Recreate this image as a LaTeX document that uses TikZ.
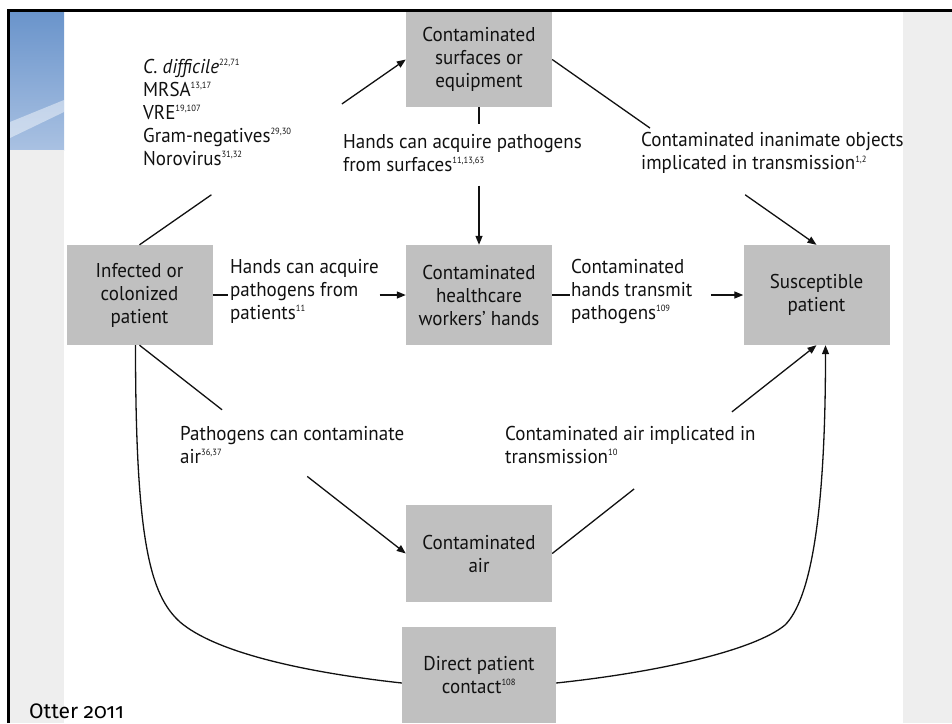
\documentclass[tikz,border=0pt]{standalone}
\usepackage{fontspec}
\setmainfont{PT Sans}[FakeStretch=0.95]
\newfontfamily\otterfont[Numbers=OldStyle]{Fira Sans}
\usetikzlibrary{arrows.meta,calc}
\definecolor{boxgray}{HTML}{C0C0C0}
\definecolor{stripgray}{HTML}{EEEEEE}
\definecolor{inkgray}{HTML}{111111}
\definecolor{slideblue}{HTML}{6A94CB}
\definecolor{paleblue}{HTML}{A9C1E2}
\newcommand{\supref}[1]{\textsuperscript{\fontsize{9}{9}\selectfont #1}}
\begin{document}
\begin{tikzpicture}[x=1pt,y=-1pt,
    stage/.style={fill=boxgray,text=inkgray,align=center,inner sep=0pt,minimum width=146pt,minimum height=100pt,font=\fontsize{20}{23}\selectfont},
    note/.style={anchor=west,align=left,inner sep=0pt,text=inkgray,font=\fontsize{20}{23}\selectfont},
    link/.style={line width=1.3pt,draw=inkgray},
    arr/.style={link,-{Triangle[length=9pt,width=7pt]}}]
        \useasboundingbox (0,0) rectangle (952,723);
        % slide background
        \fill[top color=slideblue,bottom color=paleblue] (10,12) rectangle (64,150);
        \fill[white,opacity=0.45] (10,122) -- (64,100) -- (64,112) -- (10,138) -- cycle;
        \fill[stripgray] (10,150) rectangle (64,723);
        \fill[stripgray] (903,12) rectangle (952,723);
        \draw[line width=3pt] (8,723) -- (8,10) -- (952,10);
        % boxes
        \node[stage,minimum height=95pt] (surf) at (479,59.5) {Contaminated\\surfaces or\\equipment};
        \node[stage] (infect) at (139.5,295) {Infected or\\colonized\\patient};
        \node[stage] (hands) at (479,295) {Contaminated\\healthcare\\workers’ hands};
        \node[stage] (susc) at (816.5,295) {Susceptible\\patient};
        \node[stage,minimum height=97pt] (air) at (479,553.5) {Contaminated\\air};
        \node[stage,minimum width=154pt,minimum height=96pt] (direct) at (479,675) {Direct patient\\contact\supref{108}};
        % labels on the routes
        \node[note] (bugs) at (143,112) {\textit{C. difficile}\supref{22,71}\\MRSA\supref{13,17}\\VRE\supref{19,107}\\Gram-negatives\supref{29,30}\\Norovirus\supref{31,32}};
        \node[note] (viasurf) at (343,153) {Hands can acquire pathogens\\from surfaces\supref{11,13,63}};
        \node[note] (objects) at (641,153) {Contaminated inanimate objects\\implicated in transmission\supref{1,2}};
        \node[note] (viapat) at (230,291) {Hands can acquire\\pathogens from\\patients\supref{11}};
        \node[note] (viahands) at (571,291) {Contaminated\\hands transmit\\pathogens\supref{109}};
        \node[note] (toair) at (180,445) {Pathogens can contaminate\\air\supref{36,37}};
        \node[note] (fromair) at (505,445) {Contaminated air implicated in\\transmission\supref{10}};
        \node[note,font={\otterfont\fontsize{21}{21}\selectfont},text=black] (cite) at (29,711) {Otter 2011};
        % routes, broken by their labels
        \draw[link] (infect.north) -- ($(infect.north)!0.27!(surf.west)$);
        \draw[arr] ($(infect.north)!0.76!(surf.west)$) -- (surf.west);
        \draw[link] (surf.south) -- ($(surf.south)!0.12!(hands.north)$);
        \draw[arr] ($(surf.south)!0.57!(hands.north)$) -- (hands.north);
        \draw[link] (surf.east) -- ($(surf.east)!0.37!(susc.north)$);
        \draw[arr] ($(surf.east)!0.73!(susc.north)$) -- (susc.north);
        \draw[link] (infect.east) -- ($(infect.east)!0.08!(hands.west)$);
        \draw[arr] ($(infect.east)!0.865!(hands.west)$) -- (hands.west);
        \draw[link] (hands.east) -- ($(hands.east)!0.094!(susc.west)$);
        \draw[arr] ($(hands.east)!0.83!(susc.west)$) -- (susc.west);
        \draw[link] (infect.south) -- ($(infect.south)!0.31!(air.west)$);
        \draw[arr] ($(infect.south)!0.63!(air.west)$) -- (air.west);
        \draw[link] (air.east) -- ($(air.east)!0.31!(susc.south)$);
        \draw[arr] ($(air.east)!0.68!(susc.south)$) -- (susc.south);
        % direct contact
        \draw[link] ([xshift=-4]infect.south) .. controls +(0,195) and +(-30,-27) .. (180,622)
            .. controls +(35,30) and +(-100,-11) .. ([yshift=-8]direct.west);
        \draw[arr] ([yshift=-8]direct.east) .. controls +(104,-11) and +(-30,25) .. (785,625)
            .. controls +(25,-25) and +(0,174) .. ([xshift=9]susc.south);
\end{tikzpicture}
\end{document}
